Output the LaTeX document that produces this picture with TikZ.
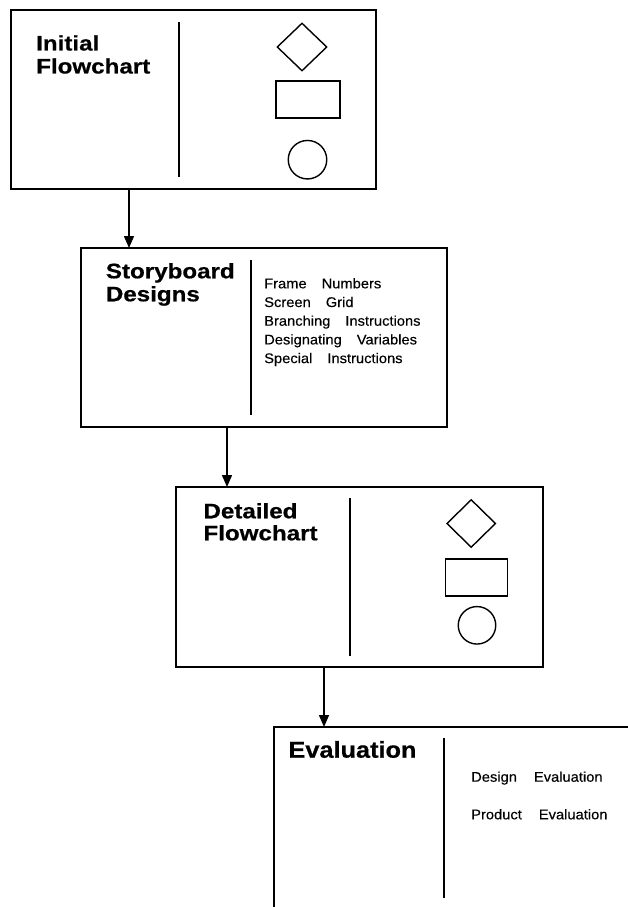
\documentclass[tikz,border=0pt]{standalone}
\usepackage{fontspec}
\setmainfont{Liberation Sans}
\newfontfamily\titlefont[FakeStretch=1.15,FakeBold=0.6]{Liberation Sans}
\newfontfamily\evaltitlefont[FakeStretch=1.1,FakeBold=0.6]{Liberation Sans}
\newfontfamily\listfont[FakeStretch=1.05,FakeBold=0.2]{Liberation Sans}
\usetikzlibrary{arrows.meta,shapes.geometric}
\newcommand\wgap{\hspace{15pt}}
\newcommand\egap{\hspace{17pt}}
\begin{document}
\begin{tikzpicture}[x=1pt,y=-1pt,
  panel/.style={draw, line width=1.6pt, inner sep=0pt, outer sep=0pt},
  divider/.style={line width=1.5pt},
  shapeline/.style={draw, line width=1.4pt, inner sep=0pt},
  title/.style={anchor=base west, inner sep=0pt, font=\titlefont\bfseries\fontsize{21}{25}\selectfont},
  bigtitle/.style={anchor=base west, inner sep=0pt, font=\evaltitlefont\bfseries\fontsize{23}{27}\selectfont},
  item/.style={anchor=base west, inner sep=0pt, font=\listfont\fontsize{14}{17}\selectfont},
  arr/.style={line width=1.5pt, -{Triangle[length=12pt,width=10pt]}}
]
\useasboundingbox (0,0) rectangle (628,907);
\begin{scope}
\clip (0,0) rectangle (628,907);

% Box 1
\node[panel, minimum width=365pt, minimum height=179pt] (b1) at (193.5,99.5) {};
\draw[divider] (179,22) coordinate (d1a) -- (179,177) coordinate (d1b);
\node[title] (t1a) at (36,50.5) {Initial};
\node[title] (t1b) at (36,73.5) {Flowchart};
\node[shapeline, diamond, minimum width=50pt, minimum height=48pt] (dm1) at (302,47) {};
\node[shapeline, rectangle, minimum width=64pt, minimum height=37pt] (r1) at (308,99.5) {};
\node[shapeline, circle, minimum size=38.5pt] (c1) at (307.5,159.7) {};

% Box 2
\node[panel, minimum width=366pt, minimum height=179pt] (b2) at (264,337.5) {};
\draw[divider] (251,260) coordinate (d2a) -- (251,415) coordinate (d2b);
\node[title] (t2a) at (105.7,278.3) {Storyboard};
\node[title] (t2b) at (105.7,301.3) {Designs};
\node[item] (i1) at (264,288.3) {Frame\wgap Numbers};
\node[item] (i2) at (264,307) {Screen\wgap Grid};
\node[item] (i3) at (264,325.7) {Branching\wgap Instructions};
\node[item] (i4) at (264,344.4) {Designating\wgap Variables};
\node[item] (i5) at (264,363.1) {Special\wgap Instructions};

% Box 3
\node[panel, minimum width=367pt, minimum height=180pt] (b3) at (359.5,577) {};
\draw[divider] (350,498) coordinate (d3a) -- (350,656) coordinate (d3b);
\node[title] (t3a) at (203.3,518.3) {Detailed};
\node[title] (t3b) at (203.3,540.3) {Flowchart};
\node[shapeline, diamond, minimum width=49pt, minimum height=48pt] (dm3) at (471.2,523.5) {};
\node[shapeline, rectangle, minimum width=62pt, minimum height=37pt] (r3) at (476.5,577.5) {};
\node[shapeline, circle, minimum size=37.5pt] (c3) at (477,625.3) {};

% Box 4 (runs off the page)
\node[panel, minimum width=500pt, minimum height=400pt] (b4) at (524,927) {};
\draw[divider] (444,738) coordinate (d4a) -- (444,898) coordinate (d4b);
\node[bigtitle] (t4) at (288.3,757.7) {Evaluation};
\node[item] (e1) at (471,781.7) {Design\egap Evaluation};
\node[item] (e2) at (471,819.3) {Product\egap Evaluation};

% Connectors
\coordinate (a1) at (129,0);
\coordinate (a2) at (227,0);
\coordinate (a3) at (324,0);
\draw[arr] (b1.south -| a1) -- (b2.north -| a1);
\draw[arr] (b2.south -| a2) -- (b3.north -| a2);
\draw[arr] (b3.south -| a3) -- (b4.north -| a3);
\end{scope}
\end{tikzpicture}
\end{document}
